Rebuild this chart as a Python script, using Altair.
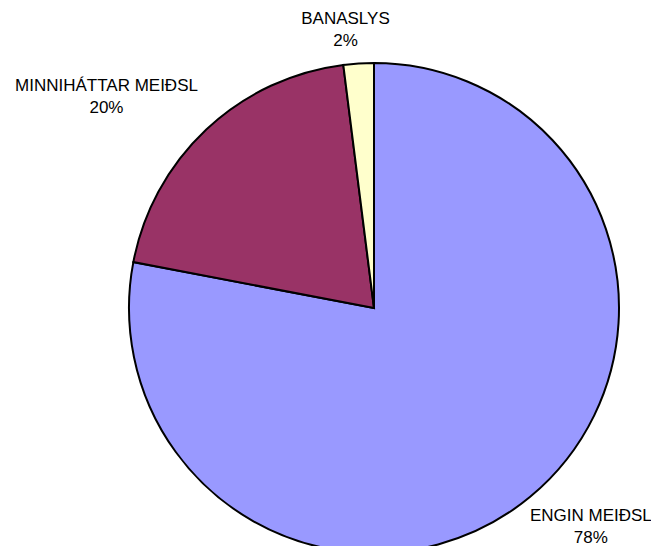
import altair as alt
import pandas as pd

categories = ["ENGIN MEIÐSL", "MINNIHÁTTAR MEIÐSL", "BANASLYS"]
values = [78, 20, 2]
colors = ["#9999FF", "#993366", "#FFFFCC"]

total = sum(values)
df = pd.DataFrame({
    "cat": categories,
    "value": values,
    "ord": list(range(len(categories))),
    "label": [f"{c}\n{round(v * 100 / total)}%" for c, v in zip(categories, values)],
})

CX, CY, R = 366, 300, 245

base = alt.Chart(df)

pie = base.mark_arc(x=CX, y=CY, outerRadius=R, stroke="black", strokeWidth=2).encode(
    theta=alt.Theta("value:Q", stack=True, scale=alt.Scale(domain=[0, total])),
    color=alt.Color("cat:N", scale=alt.Scale(domain=categories, range=colors), legend=None),
    order=alt.Order("ord:Q"),
)

label_style = {
    "ENGIN MEIÐSL": dict(radius=290, dx=32, dy=-15),
    "MINNIHÁTTAR MEIÐSL": dict(radius=290, dx=-69, dy=-11),
    "BANASLYS": dict(radius=279, dx=-11, dy=-11),
}

layers = [pie]
for cat in categories:
    st = label_style[cat]
    t = (
        base.transform_window(cum="sum(value)", sort=[alt.SortField("ord")], frame=[None, 0])
        .transform_calculate(mid="datum.cum - datum.value / 2")
        .transform_filter(alt.datum.cat == cat)
        .mark_text(
            x=CX, y=CY, radius=st["radius"], dx=st["dx"], dy=st["dy"],
            font="Liberation Sans", fontSize=17, lineBreak="\n", lineHeight=22,
            align="center", baseline="middle", color="black",
        )
        .encode(
            theta=alt.Theta("mid:Q", scale=alt.Scale(domain=[0, total])),
            text="label:N",
        )
    )
    layers.append(t)

chart = (
    alt.layer(*layers)
    .properties(width=643, height=538, autosize="none", padding=0)
    .configure_view(stroke=None)
)

chart.save("out.html", embed_options={"renderer": "svg", "actions": False})
